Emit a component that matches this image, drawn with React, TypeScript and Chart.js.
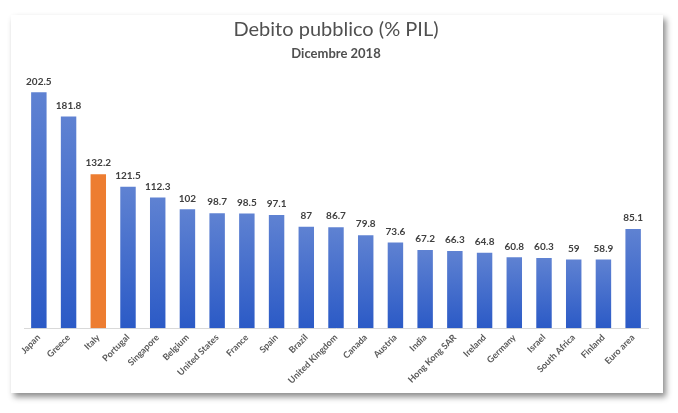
import React, { useEffect, useRef } from "react";
import { Chart, registerables } from "chart.js";

Chart.register(...registerables);

const categories = [
  "Japan", "Greece", "Italy", "Portugal", "Singapore", "Belgium", "United States",
  "France", "Spain", "Brazil", "United Kingdom", "Canada", "Austria", "India",
  "Hong Kong SAR", "Ireland", "Germany", "Israel", "South Africa", "Finland", "Euro area",
];
const debtValues = [
  202.5, 181.8, 132.2, 121.5, 112.3, 102, 98.7, 98.5, 97.1, 87, 86.7, 79.8, 73.6,
  67.2, 66.3, 64.8, 60.8, 60.3, 59, 58.9, 85.1,
];
const highlighted = "Italy";
const titleText = "Debito pubblico (% PIL)";
const subtitleText = "Dicembre 2018";

const FONT = "Lato, 'Open Sans', sans-serif";

const valueLabels = {
  id: "valueLabels",
  afterDatasetsDraw(chart: any) {
    const ctx = chart.ctx;
    const meta = chart.getDatasetMeta(0);
    ctx.save();
    ctx.font = `bold 10px ${FONT}`;
    ctx.fillStyle = "#404040";
    ctx.textAlign = "center";
    ctx.textBaseline = "bottom";
    meta.data.forEach((bar: any, i: number) => {
      ctx.fillText(String(debtValues[i]), bar.x, bar.y - 6);
    });
    ctx.restore();
  },
};

export default function App() {
  const ref = useRef<HTMLCanvasElement | null>(null);
  useEffect(() => {
    if (!ref.current) return;
    const chart = new Chart(ref.current, {
      type: "bar",
      data: {
        labels: categories,
        datasets: [
          {
            data: debtValues,
            categoryPercentage: 0.52,
            barPercentage: 1,
            backgroundColor: (c: any) => {
              const ch = c.chart;
              const label = categories[c.dataIndex];
              if (label === highlighted) return "#ED7D31";
              const ys = ch.scales?.y;
              if (!ys || c.parsed === undefined) return "#4472C4";
              const top = ys.getPixelForValue(c.parsed.y);
              const bottom = ys.getPixelForValue(0);
              if (!isFinite(top) || !isFinite(bottom)) return "#4472C4";
              const g = ch.ctx.createLinearGradient(0, top, 0, bottom);
              g.addColorStop(0, "#5f82d2");
              g.addColorStop(1, "#2b5ac6");
              return g;
            },
          },
        ],
      },
      options: {
        animation: false,
        responsive: false,
        maintainAspectRatio: false,
        layout: { padding: { left: 13, right: 15, top: 0, bottom: 3 } },
        plugins: {
          legend: { display: false },
          tooltip: { enabled: false },
          title: {
            display: true,
            text: titleText,
            color: "#505050",
            font: { family: FONT, size: 20, weight: "normal" },
            padding: { top: 3, bottom: 4 },
          },
          subtitle: {
            display: true,
            text: subtitleText,
            color: "#505050",
            font: { family: FONT, size: 13, weight: "bold" },
            padding: { top: 0, bottom: 22 },
          },
        },
        scales: {
          x: {
            grid: { display: false, drawTicks: false },
            border: { display: true, color: "#d9d9d9" },
            ticks: {
              color: "#595959",
              font: { family: FONT, size: 9, weight: "bold" },
              maxRotation: 45,
              minRotation: 45,
              padding: 4,
              autoSkip: false,
            },
          },
          y: {
            display: false,
            min: 0,
            max: 210,
          },
        },
      },
      plugins: [valueLabels],
    });
    return () => chart.destroy();
  }, []);

  return (
    <div style={{ position: "absolute", left: 0, top: 0, width: 678, height: 413, background: "#fff" }}>
      <div
        style={{
          position: "absolute",
          left: 11,
          top: 15,
          width: 652,
          height: 378,
          background: "#fff",
          boxShadow: "3px 4px 6px rgba(0,0,0,0.45)",
        }}
      >
        <canvas ref={ref} width={652} height={378} style={{ display: "block" }} />
      </div>
    </div>
  );
}
